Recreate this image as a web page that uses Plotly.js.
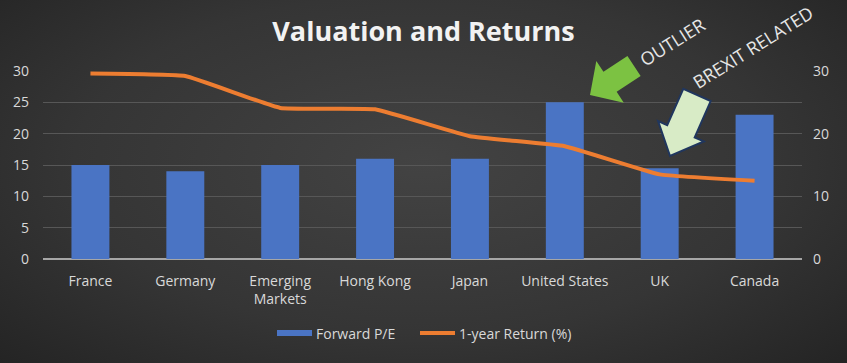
<!DOCTYPE html>
<html><head><meta charset="utf-8">
<script src="https://cdn.plot.ly/plotly-3.0.1.min.js"></script>
<style>
html,body{margin:0;padding:0;width:847px;height:363px;overflow:hidden;}
body{background:radial-gradient(ellipse 75% 85% at 50% 45%, #434343 0%, #353535 55%, #212121 100%);}
#chart{width:847px;height:363px;}
</style></head><body>
<div id="chart"></div>
<script>
const categories = ["France","Germany","Emerging<br>Markets","Hong Kong","Japan","United States","UK","Canada"];
const forwardPE = [15, 14, 15, 16, 16, 25, 14.5, 23];
const oneYearReturn = [29.6, 29.2, 24.1, 23.9, 19.6, 18.0, 13.5, 12.5];
const seriesNames = ["Forward P/E", "1-year Return (%)"];
const leftTicks = [0,5,10,15,20,25,30];
const rightTicks = [0,10,20,30];

const W = 847, H = 363, ML = 43, MR = 45, MT = 71, MB = 104;
const PW = W - ML - MR, PH = H - MT - MB;
const px = x => (x - ML) / PW;
const py = y => (H - MB - y) / PH;

function arrowPath(tail, tip, shaftHalf, headHalf, headLen){
  const dx = tip[0]-tail[0], dy = tip[1]-tail[1];
  const L = Math.hypot(dx,dy), ux = dx/L, uy = dy/L, nx = -uy, ny = ux;
  const bx = tip[0]-ux*headLen, by = tip[1]-uy*headLen;
  const pts = [
    [tail[0]+nx*shaftHalf, tail[1]+ny*shaftHalf],
    [bx+nx*shaftHalf, by+ny*shaftHalf],
    [bx+nx*headHalf, by+ny*headHalf],
    tip,
    [bx-nx*headHalf, by-ny*headHalf],
    [bx-nx*shaftHalf, by-ny*shaftHalf],
    [tail[0]-nx*shaftHalf, tail[1]-ny*shaftHalf]
  ];
  return 'M' + pts.map(p => px(p[0]).toFixed(4)+','+py(p[1]).toFixed(4)).join(' L') + ' Z';
}

const FONT = "Open Sans, sans-serif";
const tickFont = {family:FONT, size:14, color:"#d9d9d9"};

const traces = [
  {type:"bar", x:categories, y:forwardPE, name:seriesNames[0], width:0.4,
   marker:{color:"#4a74c4", line:{width:0}}, showlegend:false, hoverinfo:"skip"},
  {type:"scatter", mode:"lines", x:categories, y:oneYearReturn, name:seriesNames[1], yaxis:"y2",
   line:{color:"#ed7d31", width:4, shape:"spline", smoothing:0.3}, showlegend:false, hoverinfo:"skip"}
];

const layout = {
  width:W, height:H,
  margin:{l:ML, r:MR, t:MT, b:MB},
  paper_bgcolor:"rgba(0,0,0,0)", plot_bgcolor:"rgba(0,0,0,0)",
  title:{text:"<b>Valuation and Returns</b>", font:{family:FONT, size:27, color:"#f2f2f2"},
         x:0.5, xanchor:"center", y:1-32/H, yanchor:"middle"},
  xaxis:{type:"category", tickfont:tickFont, showgrid:false, zeroline:false, showline:false,
         ticks:"", ticklabelstandoff:12, fixedrange:true},
  yaxis:{range:[0,30], tickvals:leftTicks, ticktext:leftTicks.map(String), tickfont:tickFont,
         gridcolor:"#575757", gridwidth:1, zeroline:true, zerolinecolor:"#a6a6a6", zerolinewidth:2,
         showline:false, ticks:"", ticklabelstandoff:13, fixedrange:true},
  yaxis2:{range:[0,30], overlaying:"y", side:"right", tickvals:rightTicks, ticktext:rightTicks.map(String),
          tickfont:tickFont, showgrid:false, zeroline:false, showline:false, ticks:"",
          ticklabelstandoff:10, fixedrange:true},
  shapes:[
    {type:"path", xref:"paper", yref:"paper", path:arrowPath([634,66],[590,95],12,25,24),
     fillcolor:"#7cc242", line:{width:0}},
    {type:"path", xref:"paper", yref:"paper", path:arrowPath([697,95],[670,156],15,25,27),
     fillcolor:"#d8ebc6", line:{color:"#20365e", width:2}},
    {type:"rect", xref:"paper", yref:"paper", x0:px(277), x1:px(312), y0:py(336), y1:py(330),
     fillcolor:"#4a74c4", line:{width:0}},
    {type:"line", xref:"paper", yref:"paper", x0:px(420), x1:px(455), y0:py(333), y1:py(333),
     line:{color:"#ed7d31", width:4}}
  ],
  annotations:[
    {xref:"paper", yref:"paper", x:px(672), y:py(42), xanchor:"center", yanchor:"middle",
     text:"OUTLIER", showarrow:false, textangle:-32,
     font:{family:FONT, size:18, color:"#e6e6e6"}},
    {xref:"paper", yref:"paper", x:px(753), y:py(47), xanchor:"center", yanchor:"middle",
     text:"BREXIT RELATED", showarrow:false, textangle:-32,
     font:{family:FONT, size:18, color:"#e6e6e6"}},
    {xref:"paper", yref:"paper", x:px(314), y:py(333), xanchor:"left", yanchor:"middle", text:seriesNames[0],
     showarrow:false, font:{family:FONT, size:14, color:"#d9d9d9"}},
    {xref:"paper", yref:"paper", x:px(457), y:py(333), xanchor:"left", yanchor:"middle", text:seriesNames[1],
     showarrow:false, font:{family:FONT, size:14, color:"#d9d9d9"}}
  ]
};

Plotly.newPlot("chart", traces, layout, {displayModeBar:false, staticPlot:true});
</script>
</body></html>
